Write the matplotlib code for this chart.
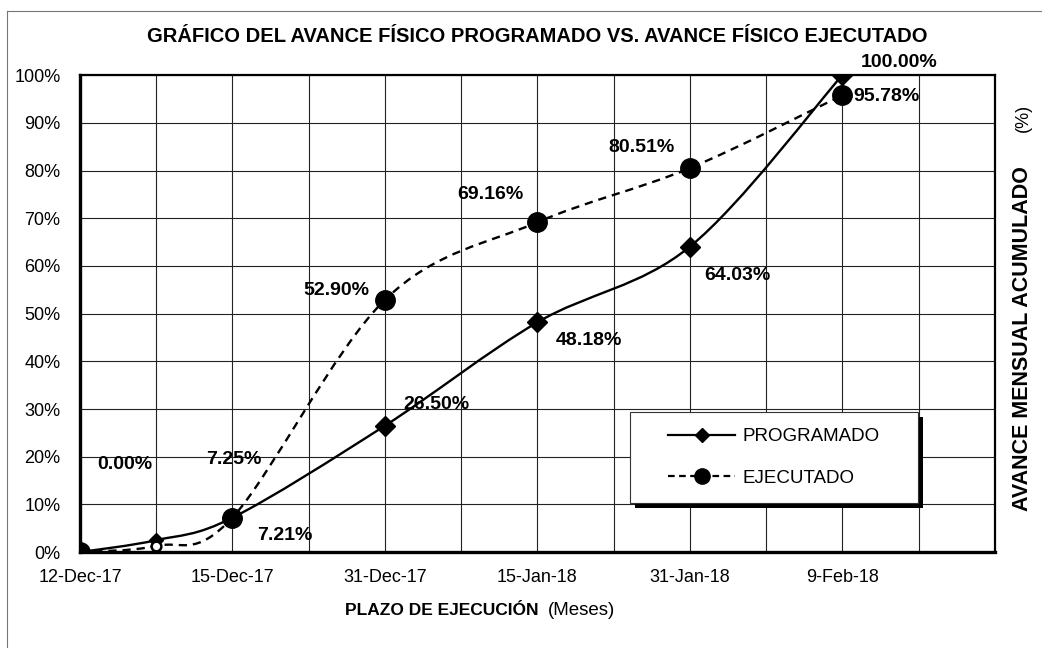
import matplotlib
matplotlib.use("Agg")
import matplotlib.pyplot as plt
from matplotlib.path import Path
from matplotlib.patches import PathPatch, Rectangle
from matplotlib.lines import Line2D
from matplotlib.ticker import MultipleLocator, FuncFormatter

plt.rcParams['font.family'] = ['Liberation Sans', 'DejaVu Sans']

# data
x_pos = [0, 0.5, 1, 2, 3, 4, 5]
programado = [0.0, 2.5, 7.21, 26.50, 48.18, 64.03, 100.00]
ejecutado = [0.0, 1.3, 7.25, 52.90, 69.16, 80.51, 95.78]
fechas = ['12-Dec-17', '15-Dec-17', '31-Dec-17', '15-Jan-18', '31-Jan-18', '9-Feb-18']
lab_prog = ['7.21%', '26.50%', '48.18%', '64.03%', '100.00%']
lab_ejec = ['0.00%', '7.25%', '52.90%', '69.16%', '80.51%', '95.78%']


def smooth_path(xs, ys):
    # excel-like smoothed line drawn as cubic bezier segments
    pts = list(zip(xs, ys))
    n = len(pts)
    verts = [pts[0]]
    codes = [Path.MOVETO]
    for i in range(n - 1):
        p0 = pts[i - 1] if i > 0 else pts[i]
        p1 = pts[i]
        p2 = pts[i + 1]
        p3 = pts[i + 2] if i + 2 < n else pts[i + 1]
        c1 = (p1[0] + (p2[0] - p0[0]) / 6, p1[1] + (p2[1] - p0[1]) / 6)
        c2 = (p2[0] - (p3[0] - p1[0]) / 6, p2[1] - (p3[1] - p1[1]) / 6)
        verts += [c1, c2, p2]
        codes += [Path.CURVE4] * 3
    return Path(verts, codes)


fig = plt.figure(figsize=(10.46, 6.48), dpi=100)
ax = fig.add_axes([0.0765, 0.148, 0.8745, 0.736])

ax.add_patch(PathPatch(smooth_path(x_pos, programado), fill=False, color='black', lw=1.7, zorder=3))
ax.add_patch(PathPatch(smooth_path(x_pos, ejecutado), fill=False, color='black', lw=1.7,
                       ls=(0, (3.5, 2.5)), zorder=3))

main = [0, 2, 3, 4, 5, 6]
ax.plot([x_pos[i] for i in main], [programado[i] for i in main], ls='none', marker='D',
        ms=10, color='black', zorder=4)
ax.plot([x_pos[i] for i in main], [ejecutado[i] for i in main], ls='none', marker='o',
        ms=14, color='black', zorder=4)
ax.plot(x_pos[1], programado[1], ls='none', marker='D', ms=7, color='black', zorder=4)
ax.plot(x_pos[1], ejecutado[1], ls='none', marker='o', ms=7, mfc='white', mec='black',
        mew=1.8, zorder=4)

off_prog = [(38, -13), (37, 15), (37, -13), (34, -21), (41, 9)]
for xi, yi, t, o in zip(x_pos[2:], programado[2:], lab_prog, off_prog):
    ax.annotate(t, (xi, yi), xytext=o, textcoords='offset points', ha='center', va='center',
                fontsize=14, fontweight='bold', zorder=5)
off_ejec = [(32, 63), (1, 42), (-35, 7), (-34, 20), (-35, 15), (32, -1)]
ej_idx = [0, 2, 3, 4, 5, 6]
for i, t, o in zip(ej_idx, lab_ejec, off_ejec):
    ax.annotate(t, (x_pos[i], ejecutado[i]), xytext=o, textcoords='offset points', ha='center',
                va='center', fontsize=14, fontweight='bold', zorder=5)

ax.set_xlim(0, 6)
ax.set_ylim(0, 100)
ax.set_xticks(range(len(fechas)))
ax.set_xticklabels(fechas)
ax.xaxis.set_minor_locator(MultipleLocator(0.5))
ax.yaxis.set_major_locator(MultipleLocator(10))
ax.yaxis.set_major_formatter(FuncFormatter(lambda v, p: '%d%%' % v))
ax.tick_params(axis='both', which='both', length=0, labelsize=13)
ax.tick_params(axis='x', pad=12)
ax.tick_params(axis='y', pad=14)
ax.grid(True, which='both', color='#222222', lw=0.8)
ax.set_axisbelow(True)
for s in ax.spines.values():
    s.set_linewidth(1.6)
ax.spines['left'].set_linewidth(2.4)
ax.spines['bottom'].set_linewidth(2.4)

# legend box with shadow
lx, ly, lw_, lh = 0.601, 0.103, 0.315, 0.191
ax.add_patch(Rectangle((lx + 0.006, ly - 0.011), lw_, lh, transform=ax.transAxes,
                       facecolor='black', edgecolor='none', zorder=6))
ax.add_patch(Rectangle((lx, ly), lw_, lh, transform=ax.transAxes,
                       facecolor='white', edgecolor='#333333', lw=0.8, zorder=7))
h1 = Line2D([], [], color='black', lw=1.6, marker='D', ms=7)
h2 = Line2D([], [], color='black', lw=1.6, ls=(0, (3, 2)), marker='o', ms=11)
leg = ax.legend([h1, h2], ['PROGRAMADO', 'EJECUTADO'], loc='center',
                bbox_to_anchor=(lx + lw_ / 2, ly + lh / 2), frameon=False, fontsize=13.5,
                handlelength=3.6, handletextpad=0.4, labelspacing=1.3)
leg.set_zorder(8)

fig.text(0.514, 0.943, 'GRÁFICO DEL AVANCE FÍSICO PROGRAMADO VS. AVANCE FÍSICO EJECUTADO',
         ha='center', va='center', fontsize=14.5, fontweight='bold')
fig.text(0.4226, 0.058, 'PLAZO DE EJECUCIÓN', ha='center', va='center', fontsize=12.5, fontweight='bold')
fig.text(0.556, 0.058, '(Meses)', ha='center', va='center', fontsize=13.5)
fig.text(0.978, 0.477, 'AVANCE MENSUAL ACUMULADO', ha='center', va='center', rotation=90,
         fontsize=15.5, fontweight='bold')
fig.text(0.978, 0.818, '(%)', ha='center', va='center', rotation=90, fontsize=13)

# outer frame (left and top)
fig.add_artist(Line2D([0.007, 0.007], [0.0, 0.983], color='#777777', lw=0.8))
fig.add_artist(Line2D([0.007, 0.995], [0.983, 0.983], color='#777777', lw=0.8))

fig.savefig('out.png', dpi=100)
